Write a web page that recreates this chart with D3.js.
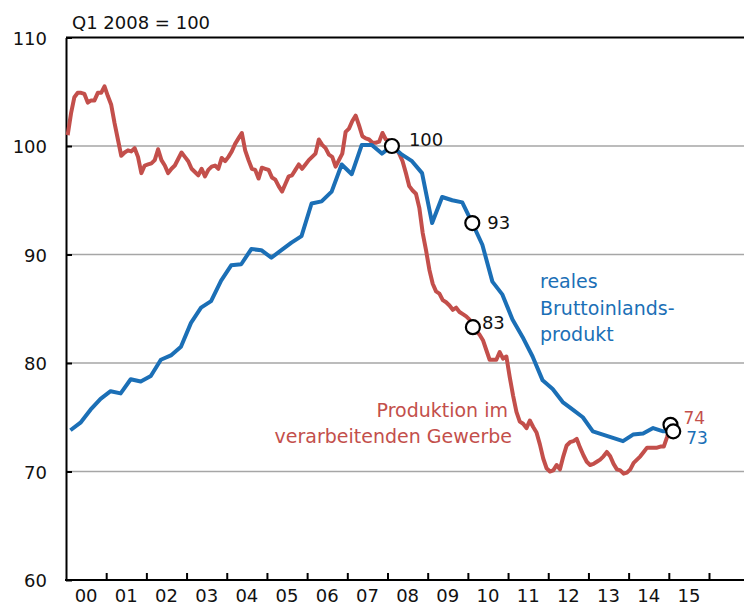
<!DOCTYPE html>
<html>
<head>
<meta charset="utf-8">
<script src="https://cdn.jsdelivr.net/npm/d3@7"></script>
<style>
  body { margin: 0; background: #fff; }
  text { font-family: "DejaVu Sans", sans-serif; }
</style>
</head>
<body>
<div id="chart"></div>
<script>
// real GDP, quarterly, 2000Q1 .. 2015Q1 (Q1 2008 = 100)
const gdpStartYear = 2000;
const gdpValues = [
    73.8, 74.5, 75.7, 76.7,
    77.4, 77.2, 78.5, 78.3,
    78.8, 80.3, 80.7, 81.5,
    83.7, 85.1, 85.7, 87.6,
    89.0, 89.1, 90.5, 90.4,
    89.7, 90.4, 91.1, 91.7,
    94.7, 94.9, 95.8, 98.3,
    97.4, 100.1, 100.1, 99.3,
    100.0, 99.2, 98.6, 97.5,
    92.9, 95.3, 95.0, 94.8,
    92.9, 90.9, 87.5, 86.3,
    84.0, 82.4, 80.6, 78.4,
    77.6, 76.4, 75.7, 75.0,
    73.7, 73.4, 73.1, 72.8,
    73.4, 73.5, 74.0, 73.7,
    73.7
];

// manufacturing production, monthly, Jan 2000 .. Jan 2015
const prodStartYear = 2000;
const prodValues = [
    101.0, 103.0, 104.5, 104.9, 104.9, 104.8, 104.0, 104.2, 104.2, 104.9, 104.9, 105.5,
    104.6, 103.8, 102.1, 100.6, 99.1, 99.4, 99.6, 99.5, 99.8, 99.0, 97.5, 98.2,
    98.3, 98.4, 98.7, 99.7, 98.7, 98.2, 97.5, 97.9, 98.2, 98.8, 99.4, 99.0,
    98.6, 97.9, 97.6, 97.3, 97.9, 97.2, 97.8, 98.1, 98.2, 97.9, 98.9, 98.6,
    99.0, 99.5, 100.2, 100.7, 101.2, 99.6, 98.7, 97.9, 97.8, 97.0, 98.0, 97.9,
    97.8, 97.1, 96.9, 96.3, 95.8, 96.5, 97.2, 97.3, 97.8, 98.3, 97.9, 98.3,
    98.7, 99.0, 99.3, 100.6, 100.1, 99.8, 99.2, 99.0, 98.1, 98.7, 99.3, 101.3,
    101.6, 102.3, 102.8, 101.9, 100.9, 100.7, 100.6, 100.3, 100.3, 100.4, 101.2, 100.6,
    100.5, 100.0, 99.8, 99.3, 98.6, 97.5, 96.3, 95.9, 95.6, 94.3, 92.0, 90.4,
    88.6, 87.3, 86.6, 86.4, 85.8, 85.6, 85.3, 84.9, 85.1, 84.7, 84.5, 84.3,
    84.0, 83.3, 83.0, 82.6, 82.1, 81.2, 80.3, 80.3, 80.3, 81.0, 80.4, 80.6,
    78.7, 77.0, 75.5, 74.6, 74.4, 74.0, 74.7, 74.1, 73.6, 72.5, 71.2, 70.3,
    70.0, 70.1, 70.6, 70.2, 71.4, 72.4, 72.7, 72.8, 73.0, 72.2, 71.5, 70.9,
    70.6, 70.7, 70.9, 71.1, 71.4, 71.8, 71.4, 70.7, 70.2, 70.1, 69.8, 69.9,
    70.2, 70.8, 71.1, 71.4, 71.8, 72.2, 72.2, 72.2, 72.2, 72.3, 72.3, 73.2,
    74.3
];

const yearLabels = ['00', '01', '02', '03', '04', '05', '06', '07',
    '08', '09', '10', '11', '12', '13', '14', '15'];
const yTicks = [60, 70, 80, 90, 100, 110];

// marked points: series, index in that series, label
const markSeries = ['gdp', 'gdp', 'prod', 'prod', 'gdp'];
const markIndex = [32, 40, 121, 180, 60];
const markLabels = ['100', '93', '83', '74', '73'];

const blue = '#1b6fb6';
const red = '#c34f4b';

const width = 744;
const height = 606;

const svg = d3.select('#chart')
    .append('svg')
    .attr('width', width)
    .attr('height', height);

const x = d3.scaleLinear().domain([2000, 2016]).range([66, 709]);
const y = d3.scaleLinear().domain([60, 110]).range([580, 37.5]);

const gdp = gdpValues.map((v, i) => ({
    t: gdpStartYear + Math.floor(i / 4) + (i % 4) / 4 + 0.11,
    v: v
}));
const prod = prodValues.map((v, i) => ({
    t: prodStartYear + (i + 0.5) / 12,
    v: v
}));

// grid lines
svg.append('g')
    .selectAll('line')
    .data(yTicks.filter(d => d > 60 && d < 110))
    .join('line')
    .attr('x1', 66)
    .attr('x2', width)
    .attr('y1', d => y(d))
    .attr('y2', d => y(d))
    .style('stroke', '#a6a6a6')
    .style('stroke-width', 1.5);

// top border
svg.append('line')
    .attr('x1', 66).attr('x2', width)
    .attr('y1', y(110)).attr('y2', y(110))
    .style('stroke', '#000')
    .style('stroke-width', 2);

// y axis
const yAxis = svg.append('g')
    .attr('transform', 'translate(66,0)')
    .call(d3.axisLeft(y).tickValues(yTicks).tickSize(-6).tickSizeOuter(0).tickPadding(19));
yAxis.select('.domain').style('stroke-width', 2);
yAxis.selectAll('.tick line').style('stroke-width', 2);
yAxis.selectAll('.tick text')
    .attr('dy', '0.38em')
    .style('font-size', '18px')
    .style('font-family', '"DejaVu Sans", sans-serif')
    .style('fill', '#111');

// x axis
const xAxis = svg.append('g')
    .attr('transform', 'translate(0,580)')
    .call(d3.axisBottom(x).tickValues(d3.range(2001, 2017)).tickSize(-7).tickFormat(''));
xAxis.select('.domain').remove();
xAxis.selectAll('.tick line').style('stroke-width', 2);
svg.append('line')
    .attr('x1', 65).attr('x2', width)
    .attr('y1', 580).attr('y2', 580)
    .style('stroke', '#000')
    .style('stroke-width', 2);

svg.append('g')
    .selectAll('text')
    .data(yearLabels)
    .join('text')
    .attr('x', (d, i) => x(2000 + i + 0.5))
    .attr('y', 602)
    .attr('text-anchor', 'middle')
    .style('font-size', '18px')
    .style('fill', '#111')
    .text(d => d);

svg.append('text')
    .attr('x', 72)
    .attr('y', 29)
    .style('font-size', '18px')
    .style('fill', '#111')
    .text('Q1 2008 = 100');

// lines
const line = d3.line().x(d => x(d.t)).y(d => y(d.v));

svg.append('path')
    .datum(prod)
    .attr('d', line)
    .style('fill', 'none')
    .style('stroke', red)
    .style('stroke-width', 4)
    .style('stroke-linejoin', 'round');

svg.append('path')
    .datum(gdp)
    .attr('d', line)
    .style('fill', 'none')
    .style('stroke', blue)
    .style('stroke-width', 4)
    .style('stroke-linejoin', 'round');

// series labels
svg.append('g')
    .selectAll('text')
    .data(['reales', 'Bruttoinlands-', 'produkt'])
    .join('text')
    .attr('x', 540)
    .attr('y', (d, i) => 288 + i * 26.5)
    .style('font-size', '19px')
    .style('fill', blue)
    .text(d => d);

svg.append('g')
    .selectAll('text')
    .data(['Produktion im', 'verarbeitenden Gewerbe'])
    .join('text')
    .attr('x', (d, i) => i == 0 ? 508 : 512)
    .attr('y', (d, i) => 417 + i * 26)
    .attr('text-anchor', 'end')
    .style('font-size', '19px')
    .style('fill', red)
    .text(d => d);

// markers
const marks = markLabels.map((lab, i) => {
    const p = markSeries[i] == 'gdp' ? gdp[markIndex[i]] : prod[markIndex[i]];
    return { series: markSeries[i], label: lab, t: p.t, v: p.v };
});
const labelOffsets = [[17, 0], [15, 6], [9, 2], [13, -1], [13, 13]];

svg.append('g')
    .selectAll('circle')
    .data(marks)
    .join('circle')
    .attr('cx', d => x(d.t))
    .attr('cy', d => y(d.v))
    .attr('r', 7)
    .style('fill', '#fff')
    .style('stroke', '#000')
    .style('stroke-width', 2.2);

svg.append('g')
    .selectAll('text')
    .data(marks)
    .join('text')
    .attr('x', (d, i) => x(d.t) + labelOffsets[i][0])
    .attr('y', (d, i) => y(d.v) + labelOffsets[i][1])
    .style('font-size', (d, i) => i < 3 ? '18px' : '17px')
    .style('fill', (d, i) => i < 3 ? '#111' : (d.series == 'gdp' ? blue : red))
    .text(d => d.label);
</script>
</body>
</html>
